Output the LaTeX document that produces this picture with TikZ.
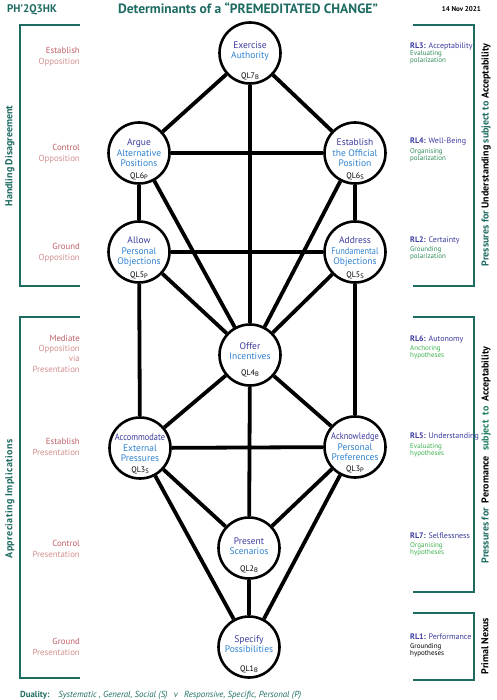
\documentclass[tikz,border=0pt]{standalone}
\usepackage{fontspec}
\setmainfont{PT Sans}
\definecolor{teal1}{HTML}{1E6B62}
\definecolor{teal2}{HTML}{1F7E62}
\definecolor{dblue}{HTML}{3B3B9E}
\definecolor{lblue}{HTML}{2F82D0}
\definecolor{rose1}{HTML}{BE5F66}
\definecolor{rose2}{HTML}{D38E8E}
\definecolor{pgreen}{HTML}{2E8B57}
\definecolor{hgreen}{HTML}{3DB04E}
\newcommand{\qs}[1]{\raisebox{-1.6pt}{\fontsize{6.5}{6.5}\selectfont #1}}
\newcommand{\dl}[1]{{\color{dblue}#1}}
\newcommand{\sq}[1]{\scalebox{0.88}[1]{#1}}
\begin{document}
\begin{tikzpicture}[x=1pt,y=-1pt,
  ql/.style={circle,draw=black,line width=2.6pt,fill=white,minimum size=61pt,inner sep=0pt},
  qt/.style={align=center,font=\fontsize{9.5}{10.5}\selectfont,text=lblue,inner sep=0pt},
  qlab/.style={font=\fontsize{8}{8}\selectfont,inner sep=0pt},
  edge/.style={line width=3.8pt},
  brk/.style={draw=teal1,line width=2pt},
  leftlab/.style={anchor=east,align=right,font=\fontsize{8.8}{11}\selectfont,text=rose2,inner sep=0pt},
  rl/.style={anchor=west,font=\fontsize{8}{8}\selectfont,text=dblue,inner sep=0pt},
  rld/.style={anchor=north west,align=left,font=\fontsize{7}{7.8}\selectfont,inner sep=0pt},
  side/.style={rotate=90,font=\fontsize{10}{10}\selectfont\bfseries,inner sep=0pt}
]
\useasboundingbox (0,0) rectangle (496,700);

% header
\node[font=\fontsize{11}{11}\selectfont\bfseries,text=teal1,anchor=base west,inner sep=0pt] (code) at (7,13) {PH’2Q3HK};
\node[font=\fontsize{13.5}{13.5}\selectfont\bfseries,text=teal1,anchor=base,inner sep=0pt] (title) at (248,14) {Determinants of a “PREMEDITATED CHANGE”};
\node[font=\fontsize{7}{7}\selectfont\bfseries,anchor=base east,inner sep=0pt] (date) at (481,12) {14 Nov 2021};

% brackets
\draw[brk] (80,25) -| (20,286) -- (80,286);
\draw[brk] (80,317) -| (20,678) -- (80,678);
\draw[brk] (413,25) -| (474,286) -- (413,286);
\draw[brk] (413,317) -| (474,592) -- (413,592);
\draw[brk] (413,613) -| (474,680) -- (413,680);

% side titles
\node[side,text=teal1] (hd) at (10,156) {Handling Disagreement};
\node[side,text=teal1] (ai) at (10,499) {\addfontfeatures{LetterSpace=4}Appreciating Implications};
\node[side] (pu) at (486,155) {{\color{teal1}Pressures for} Understanding {\color{teal1}subject to} Acceptability};
\node[side] (pp) at (486,455) {{\color{teal1}Pressures for}\ \ Peromance\ \ {\color{teal2}subject\ \ to}\ \ Acceptability};
\node[side] (pn) at (485,646) {Primal Nexus};

% left labels
\node[leftlab] (a1) at (80,56.5) {{\color{rose1}Establish}\\Opposition};
\node[leftlab] (a2) at (80,153.5) {{\color{rose1}Control}\\Opposition};
\node[leftlab] (a3) at (80,252.5) {{\color{rose1}Ground}\\Opposition};
\node[leftlab,font=\fontsize{8.8}{10.3}\selectfont] (a4) at (80,353.5) {{\color{rose1}Mediate}\\Opposition\\via\\Presentation};
\node[leftlab] (a5) at (80,446.5) {{\color{rose1}Establish}\\Presentation};
\node[leftlab] (a6) at (80,549) {{\color{rose1}Control}\\Presentation};
\node[leftlab] (a7) at (80,646.5) {{\color{rose1}Ground}\\Presentation};

% right labels
\node[rl] (r3) at (410,46) {\textbf{RL3:} Acceptability};
\node[rld,text=pgreen] (r3d) at (410,50) {Evaluating\\polarization};
\node[rl] (r4) at (410,142) {\textbf{RL4:} Well-Being};
\node[rld,text=pgreen] (r4d) at (410,148) {Organising\\polarization};
\node[rl] (r2) at (410,240) {\textbf{RL2:} Certainty};
\node[rld,text=pgreen] (r2d) at (410,246) {Grounding\\polarization};
\node[rl] (r6) at (410,339) {\textbf{RL6:} Autonomy};
\node[rld,text=hgreen] (r6d) at (410,345) {Anchoring\\hypotheses};
\node[rl] (r5) at (410,437) {\textbf{RL5:} Understanding};
\node[rld,text=hgreen] (r5d) at (410,443) {Evaluating\\hypotheses};
\node[rl] (r7) at (410,536) {\textbf{RL7:} Selflessness};
\node[rld,text=hgreen] (r7d) at (410,542) {Organising\\hypotheses};
\node[rl] (r1) at (410,637) {\textbf{RL1:} Performance};
\node[rld,text=black] (r1d) at (410,643) {Grounding\\hypotheses};

% circles
\node[ql] (q7) at (250,53) {};
\node[ql] (q6p) at (139,153) {};
\node[ql] (q6s) at (355,153) {};
\node[ql] (q5p) at (139,252) {};
\node[ql] (q5s) at (355,252) {};
\node[ql] (q4) at (250,355) {};
\node[ql] (q3s) at (140,448) {};
\node[ql] (q3p) at (355,447) {};
\node[ql] (q2) at (249,548) {};
\node[ql] (q1) at (249,647) {};

% edges
\draw[edge] (q7)--(q6p) (q7)--(q6s) (q7)--(q4) (q6p)--(q6s) (q6p)--(q5p) (q6s)--(q5s)
  (q6p)--(q4) (q6s)--(q4) (q5p)--(q5s) (q5p)--(q4) (q5s)--(q4)
  (q5p)--(q3s) (q5s)--(q3p) (q4)--(q3s) (q4)--(q3p) (q3s)--(q3p)
  (q4)--(q2) (q3s)--(q2) (q3p)--(q2) (q3s)--(q1) (q3p)--(q1) (q2)--(q1);

% circle texts
\node[qt] (t7) at (250,51) {\dl{Exercise}\\Authority};
\node[qlab] (l7) at (250,76) {QL7\qs{B}};
\node[qt] (t6p) at (139,153) {\dl{Argue}\\Alternative\\Positions};
\node[qlab] (l6p) at (139,176) {QL6\qs{P}};
\node[qt] (t6s) at (355,153) {\dl{Establish}\\the Official\\Position};
\node[qlab] (l6s) at (355,176) {QL6\qs{S}};
\node[qt] (t5p) at (139,252) {\dl{Allow}\\Personal\\Objections};
\node[qlab] (l5p) at (139,275) {QL5\qs{P}};
\node[qt] (t5s) at (355,252) {\dl{Address}\\\sq{Fundamental}\\Objections};
\node[qlab] (l5s) at (355,275) {QL5\qs{S}};
\node[qt] (t4) at (250,351) {\dl{Offer}\\Incentives};
\node[qlab] (l4) at (250,373) {QL4\qs{B}};
\node[qt] (t3s) at (140,448) {\dl{\sq{Accommodate}}\\External\\Pressures};
\node[qlab] (l3s) at (140,470) {QL3\qs{S}};
\node[qt] (t3p) at (355,447) {\dl{\sq{Acknowledge}}\\Personal\\Preferences};
\node[qlab] (l3p) at (355,469) {QL3\qs{P}};
\node[qt] (t2) at (249,546) {\dl{Present}\\Scenarios};
\node[qlab] (l2) at (249,569) {QL2\qs{B}};
\node[qt] (t1) at (249,644) {\dl{Specify}\\Possibilities};
\node[qlab] (l1) at (249,669) {QL1\qs{B}};

% footer
\node[anchor=base west,font=\fontsize{8.8}{8.8}\selectfont,text=teal1,inner sep=0pt] (dual) at (20,697)
  {\textbf{Duality:}\hspace{9pt}\textit{Systematic , General, Social (S)\hspace{4pt} v\hspace{4pt} Responsive, Specific, Personal (P)}};
\end{tikzpicture}
\end{document}
